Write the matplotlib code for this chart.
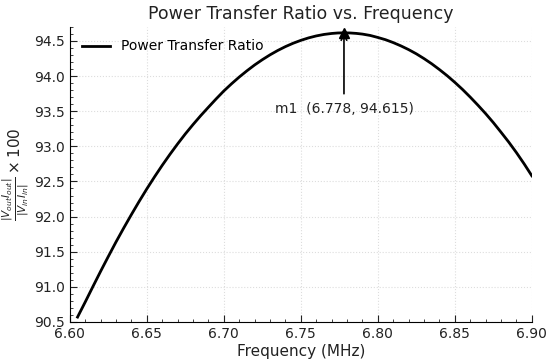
import numpy as np
import matplotlib
matplotlib.use("Agg")
import matplotlib.pyplot as plt
from matplotlib.ticker import MultipleLocator

# Frequência (MHz) e razão de transferência de potência (%)
freq = [6.605, 6.61, 6.615, 6.62, 6.625, 6.63, 6.635, 6.64, 6.645, 6.65,
        6.655, 6.66, 6.665, 6.67, 6.675, 6.68, 6.685, 6.69, 6.695, 6.70,
        6.705, 6.71, 6.715, 6.72, 6.725, 6.73, 6.735, 6.74, 6.745, 6.75,
        6.755, 6.76, 6.765, 6.77, 6.774, 6.778, 6.782, 6.786, 6.79, 6.795,
        6.80, 6.805, 6.81, 6.815, 6.82, 6.825, 6.83, 6.835, 6.84, 6.845,
        6.85, 6.855, 6.86, 6.865, 6.87, 6.875, 6.88, 6.885, 6.89, 6.895, 6.90]
ratio = [90.570, 90.785, 91.005, 91.222, 91.433, 91.640, 91.838, 92.030, 92.216, 92.395,
         92.566, 92.730, 92.886, 93.035, 93.177, 93.310, 93.437, 93.557, 93.675, 93.788,
         93.890, 93.986, 94.075, 94.158, 94.233, 94.302, 94.364, 94.419, 94.467, 94.508,
         94.543, 94.571, 94.592, 94.606, 94.613, 94.615, 94.613, 94.607, 94.597, 94.578,
         94.549, 94.517, 94.476, 94.429, 94.376, 94.316, 94.248, 94.174, 94.092, 94.005,
         93.910, 93.809, 93.700, 93.585, 93.465, 93.337, 93.200, 93.060, 92.910, 92.750, 92.580]

marker_f = 6.778
marker_v = 94.615

fig = plt.figure(figsize=(5.5, 3.63), dpi=100)
ax = fig.add_axes([0.127, 0.113, 0.84, 0.813])

ax.plot(freq, ratio, color="black", lw=2, label="Power Transfer Ratio")
ax.plot([marker_f], [marker_v], marker="^", color="black", ms=7)
ax.annotate(f"m1  ({marker_f:.3f}, {marker_v:.3f})",
            xy=(marker_f, marker_v), xytext=(marker_f, 93.53),
            ha="center", va="center", fontsize=10, color="#222222",
            arrowprops=dict(arrowstyle="->", color="black", lw=1.2,
                            shrinkA=4, shrinkB=0))

ax.set_xlim(6.60, 6.90)
ax.set_ylim(90.5, 94.7)
ax.xaxis.set_major_locator(MultipleLocator(0.05))
ax.xaxis.set_minor_locator(MultipleLocator(0.01))
ax.yaxis.set_major_locator(MultipleLocator(0.5))
ax.yaxis.set_minor_locator(MultipleLocator(0.1))
ax.tick_params(which="both", direction="in", labelsize=10, colors="#222222")
ax.tick_params(which="major", length=5)
ax.tick_params(which="minor", length=2.5)

ax.spines["top"].set_visible(False)
ax.spines["right"].set_visible(False)
ax.grid(True, which="major", ls=":", color="#dddddd", lw=0.8)

ax.set_title("Power Transfer Ratio vs. Frequency", fontsize=12.5, color="#222222")
ax.set_xlabel("Frequency (MHz)", fontsize=11, color="#222222", labelpad=2)
ax.set_ylabel(r"$\frac{|V_{out}I_{out}|}{|V_{in}I_{in}|}\times 100$", fontsize=11,
              color="#222222", labelpad=2)
ax.legend(loc="upper left", frameon=False, fontsize=10, handlelength=2)

fig.savefig("out.png", dpi=100)
